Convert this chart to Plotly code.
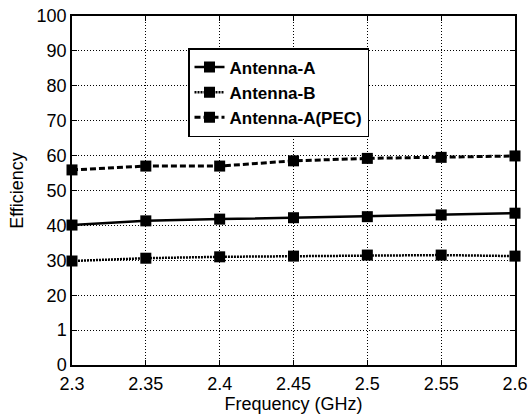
import plotly.graph_objects as go

freq = [2.3, 2.35, 2.4, 2.45, 2.5, 2.55, 2.6]
antenna_a = [40.1, 41.3, 41.8, 42.2, 42.5, 43.0, 43.5]
antenna_b = [29.8, 30.6, 31.0, 31.2, 31.5, 31.5, 31.2]
antenna_pec = [55.9, 57.0, 57.0, 58.5, 59.2, 59.5, 59.9]

x_ticks = [2.3, 2.35, 2.4, 2.45, 2.5, 2.55, 2.6]
x_ticktext = ["2.3", "2.35", "2.4", "2.45", "2.5", "2.55", "2.6"]
y_ticks = [0, 10, 20, 30, 40, 50, 60, 70, 80, 90, 100]
y_ticktext = ["0", "1", "20", "30", "40", "50", "60", "70", "80", "90", "100"]

series = [
    ("Antenna-A", antenna_a, "solid", 2.5),
    ("Antenna-B", antenna_b, "2px,1px", 2.5),
    ("Antenna-A(PEC)", antenna_pec, "6px,3px", 3),
]

fig = go.Figure()
for name, vals, dash, w in series:
    fig.add_trace(go.Scatter(
        x=freq, y=vals, name=name, mode="lines+markers",
        line=dict(color="black", width=w, dash=dash),
        marker=dict(symbol="square", size=11, color="black"),
        cliponaxis=False,
    ))

font = "Liberation Sans, Arial, Helvetica, sans-serif"
fig.update_layout(
    width=530, height=415,
    margin=dict(l=72, r=15, t=16, b=50),
    paper_bgcolor="white", plot_bgcolor="white",
    font=dict(family=font, size=18, color="black"),
    showlegend=True,
    legend=dict(
        x=(188 - 72) / 443, y=(365 - 48) / 349, xanchor="left", yanchor="top",
        bgcolor="white", bordercolor="black", borderwidth=1.5,
        font=dict(family=font, size=17, color="black", weight="bold"),
        tracegroupgap=0, itemwidth=30,
    ),
)
fig.update_xaxes(
    range=[2.3, 2.6], tickvals=x_ticks, ticktext=x_ticktext,
    showline=True, linecolor="black", linewidth=1.5, mirror="allticks",
    ticks="inside", ticklen=5, tickcolor="black", tickwidth=1,
    showgrid=True, gridcolor="black", griddash="1px,2px", gridwidth=1,
    zeroline=False, automargin=False,
    title=dict(text="Frequency (GHz)", standoff=2, font=dict(size=18)),
    ticklabelstandoff=2,
)
fig.update_yaxes(
    range=[0, 100], tickvals=y_ticks, ticktext=y_ticktext,
    showline=True, linecolor="black", linewidth=1.5, mirror="allticks",
    ticks="inside", ticklen=5, tickcolor="black", tickwidth=1,
    showgrid=True, gridcolor="black", griddash="1px,2px", gridwidth=1,
    zeroline=False, automargin=False,
    title=dict(text="Efficiency", standoff=8, font=dict(size=18)),
    ticklabelstandoff=0,
)
fig.write_html("out.html")
